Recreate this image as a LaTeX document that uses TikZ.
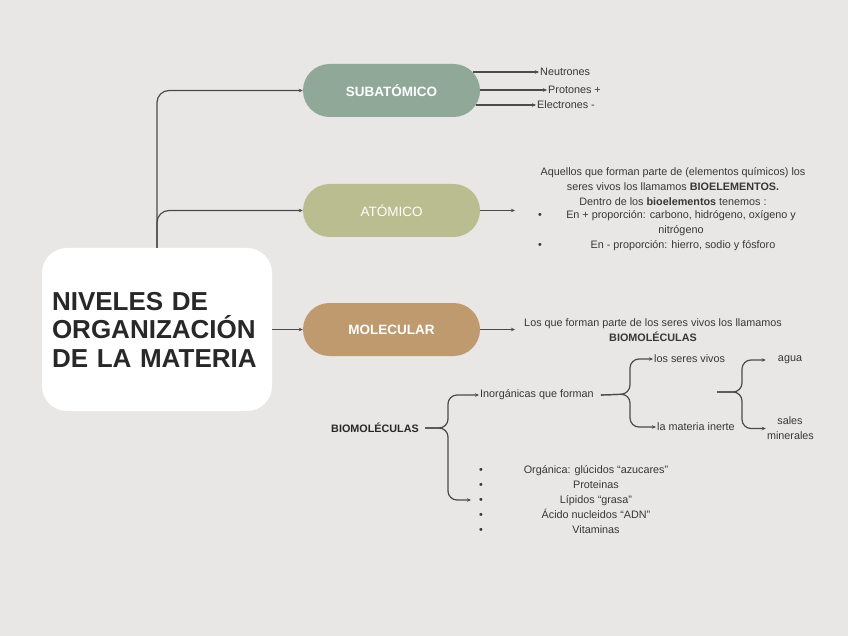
\documentclass[tikz,border=0pt]{standalone}
\usepackage{fontspec}
\setmainfont{Liberation Sans}
\usetikzlibrary{arrows.meta}
\definecolor{bg}{RGB}{232,231,229}
\definecolor{csub}{RGB}{143,168,152}
\definecolor{cato}{RGB}{185,189,143}
\definecolor{cmol}{RGB}{190,154,110}
\definecolor{ink}{RGB}{55,55,55}
\definecolor{titleink}{RGB}{40,40,40}
\definecolor{lin}{RGB}{75,75,75}
\begin{document}
\begin{tikzpicture}[x=1pt,y=-1pt,
  conn/.style={draw=lin, line width=1.2pt, -{Stealth[length=4pt,width=3.5pt]}},
  pill/.style={rounded corners=26.5pt, minimum width=177pt, minimum height=53pt, text=white, font=\fontsize{13.5}{15}\selectfont\bfseries, inner sep=0pt},
  small/.style={text=ink, font=\fontsize{10.8}{15}\selectfont, inner sep=1pt},
  smallb/.style={text=titleink, font=\fontsize{10.8}{15}\selectfont\bfseries, inner sep=1pt},
]
\fill[bg] (0,0) rectangle (848,636);
\useasboundingbox (0,0) rectangle (848,636);

% main node
\node[fill=white, rounded corners=25pt, minimum width=230pt, minimum height=163pt,
      text width=210pt, inner xsep=10pt, align=left, text=titleink,
      font=\fontsize{26}{28.5}\selectfont\bfseries] (main) at (157,329.5)
      {NIVELES DE\\ORGANIZACIÓN\\DE LA MATERIA};

% level pills
\node[pill, fill=csub] (sub) at (391.5,90.5) {SUBATÓMICO};
\node[pill, fill=cato, font=\fontsize{13.5}{15}\selectfont] (ato) at (391.5,210.5) {ATÓMICO};
\node[pill, fill=cmol] (mol) at (391.5,329.5) {MOLECULAR};

\draw[conn, rounded corners=12pt] (main.north) |- (sub.west);
\draw[conn, rounded corners=12pt] (main.north) |- (ato.west);
\draw[conn] (main.east) -- (mol.west);

% subatomic
\node[small, anchor=west] (neu) at (539,72) {Neutrones};
\node[small, anchor=west] (pro) at (547,90) {Protones +};
\node[small, anchor=west] (ele) at (536,105) {Electrones -};
\coordinate (s1) at (472.5,72);
\coordinate (s2) at (480,90);
\coordinate (s3) at (475.5,105);
\draw[conn] (s1) -- (neu.west);
\draw[conn] (s2) -- (pro.west);
\draw[conn] (s3) -- (ele.west);

% atomic
\coordinate (ae) at (515,210.5);
\draw[conn] (ato.east) -- (ae);
\node[small, align=center] (at1) at (673,187) {Aquellos que forman parte de (elementos químicos) los\\seres vivos los llamamos \textbf{BIOELEMENTOS.}\\Dentro de los \textbf{bioelementos} tenemos :};
\node[small, align=center] (at2) at (681,223.5) {En + proporción: carbono, hidrógeno, oxígeno y\\nitrógeno};
\node[small] (at3) at (683,246) {En - proporción: hierro, sodio y fósforo};
\node[small] (bu1) at (540,216) {\textbullet};
\node[small] (bu2) at (540,246) {\textbullet};

% molecular
\coordinate (me) at (515,329.5);
\draw[conn] (mol.east) -- (me);
\node[small, align=center] (mt) at (653,330.5) {Los que forman parte de los seres vivos los llamamos\\\textbf{BIOMOLÉCULAS}};

% biomoleculas
\node[smallb] (bio) at (375,428) {BIOMOLÉCULAS};
\coordinate (j1) at (448,428);
\node[small, anchor=west] (inorg) at (479,395) {Inorgánicas que forman};
\node[small, anchor=west, align=left, inner sep=0pt] (org) at (471,500) {%
\hspace{8pt}\textbullet\hspace{38pt}\makebox[150pt]{Orgánica: glúcidos “azucares”}\\
\hspace{8pt}\textbullet\hspace{38pt}\makebox[150pt]{Proteinas}\\
\hspace{8pt}\textbullet\hspace{38pt}\makebox[150pt]{Lípidos “grasa”}\\
\hspace{8pt}\textbullet\hspace{38pt}\makebox[150pt]{Ácido nucleidos “ADN”}\\
\hspace{8pt}\textbullet\hspace{38pt}\makebox[150pt]{Vitaminas}};
\draw[conn, rounded corners=9pt] ([xshift=5pt]bio.east) -- (j1) |- (inorg.west);
\draw[conn, rounded corners=9pt] ([xshift=5pt]bio.east) -- (j1) |- (org.west);

% inorganicas
\coordinate (j2) at (630,394);
\node[small, anchor=west] (vivos) at (653,359) {los seres vivos};
\node[small, anchor=west] (inerte) at (656,427) {la materia inerte};
\draw[conn, rounded corners=9pt] ([xshift=6pt]inorg.east) -- (j2) |- (vivos.west);
\draw[conn, rounded corners=9pt] ([xshift=6pt]inorg.east) -- (j2) |- (inerte.west);

% agua / sales
\coordinate (s4) at (717,392);
\coordinate (j3) at (742,392);
\node[small, text width=46pt, align=center] (agua) at (790,360) {agua};
\node[small, text width=46pt, align=center] (sales) at (790,428.5) {sales\\minerales};
\draw[conn, rounded corners=9pt] (s4) -- (j3) |- (agua.west);
\draw[conn, rounded corners=9pt] (s4) -- (j3) |- (sales.west);
\end{tikzpicture}
\end{document}
